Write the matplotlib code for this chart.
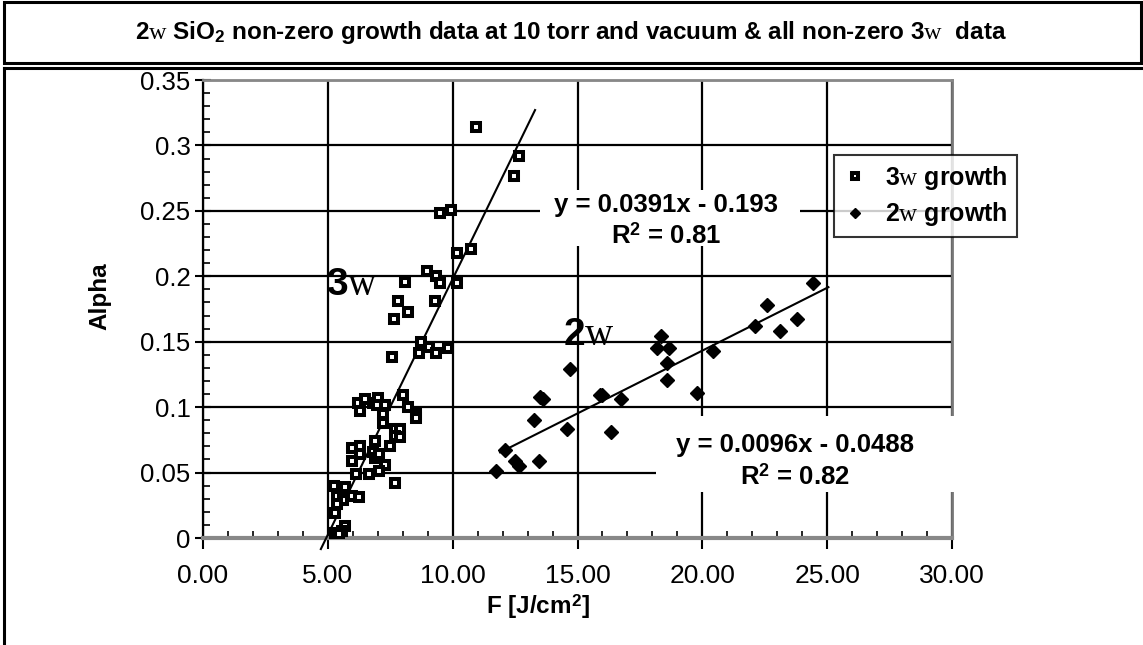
import matplotlib
matplotlib.use("Agg")
import matplotlib.pyplot as plt
from matplotlib.patches import Rectangle
from matplotlib.lines import Line2D
from matplotlib.ticker import MultipleLocator, FixedLocator, FixedFormatter

plt.rcParams['font.family'] = ['Liberation Sans', 'DejaVu Sans']
plt.rcParams['mathtext.fontset'] = 'custom'
plt.rcParams['mathtext.rm'] = 'Liberation Serif'
plt.rcParams['mathtext.bf'] = 'Liberation Sans:bold'
plt.rcParams['mathtext.it'] = 'Liberation Serif:italic'

# 3w growth data (F in J/cm^2, alpha)
f_3w = [10.95, 12.65, 12.44, 9.95, 9.51, 10.19, 10.75, 8.99, 9.35, 9.51, 10.19, 8.08,
        9.28, 7.81, 8.21, 7.64, 8.75, 9.04, 9.35, 9.81, 8.65, 7.59,
        8.01, 8.21, 8.55, 8.55, 6.21, 6.28, 6.48, 6.81, 7.01, 6.95, 7.28, 7.19, 7.19,
        7.68, 7.88, 7.68, 7.91, 7.48, 6.88, 5.97, 6.28, 6.28, 6.81, 6.88, 7.05, 7.28,
        5.97, 6.11, 6.65, 7.05, 7.68, 5.25, 5.68, 5.35, 5.68, 5.95, 6.25, 5.61, 5.35,
        5.28, 5.68, 5.55, 5.28, 5.45]
a_3w = [0.314, 0.292, 0.277, 0.251, 0.248, 0.218, 0.221, 0.204, 0.200, 0.195, 0.195, 0.196,
        0.181, 0.181, 0.173, 0.167, 0.150, 0.146, 0.141, 0.145, 0.141, 0.138,
        0.109, 0.100, 0.095, 0.092, 0.103, 0.097, 0.106, 0.103, 0.107, 0.102, 0.102, 0.095, 0.088,
        0.083, 0.083, 0.078, 0.077, 0.070, 0.074, 0.069, 0.070, 0.064, 0.066, 0.061, 0.064, 0.056,
        0.059, 0.049, 0.049, 0.051, 0.042, 0.040, 0.039, 0.032, 0.032, 0.032, 0.031, 0.029, 0.026,
        0.019, 0.009, 0.005, 0.004, 0.003]

# 2w growth data
f_2w = [11.72, 12.11, 12.48, 12.65, 13.45, 13.25, 13.48, 13.61, 14.59, 14.68, 15.92, 16.0,
        16.35, 16.75, 18.19, 18.35, 18.68, 18.59, 18.59, 19.79, 20.44, 22.12, 22.61, 23.12,
        23.81, 24.45]
a_2w = [0.051, 0.067, 0.059, 0.055, 0.059, 0.090, 0.108, 0.106, 0.083, 0.129, 0.109, 0.109,
        0.081, 0.106, 0.145, 0.154, 0.145, 0.134, 0.121, 0.111, 0.143, 0.162, 0.178, 0.158,
        0.167, 0.195]

# linear fits
fit_3w = (0.0391, -0.193)
fit_3w_range = (4.72, 13.3)
fit_2w = (0.0096, -0.0488)
fit_2w_range = (11.9, 25.05)

x_ticks = [0, 5, 10, 15, 20, 25, 30]
x_labels = ["0.00", "5.00", "10.00", "15.00", "20.00", "25.00", "30.00"]
y_ticks = [0, 0.05, 0.1, 0.15, 0.2, 0.25, 0.3, 0.35]
y_labels = ["0", "0.05", "0.1", "0.15", "0.2", "0.25", "0.3", "0.35"]

W, H = 1143, 645
fig = plt.figure(figsize=(W / 100, H / 100), dpi=100)


def px(x, y):
    return x / W, 1 - y / H


# frame boxes
fig.patches.append(Rectangle(px(4, 63), 1137 / W, 61 / H, transform=fig.transFigure,
                             fill=False, edgecolor='black', linewidth=2.2))
fig.lines.append(Line2D([4 / W, 1], [1 - 68 / H] * 2, transform=fig.transFigure,
                        color='black', linewidth=2.2))
fig.lines.append(Line2D([4 / W] * 2, [1 - 68 / H, 0], transform=fig.transFigure,
                        color='black', linewidth=2.2))

fig.text(*px(571, 32),
         r"2$\mathrm{w}$ SiO$_\mathbf{2}$ non-zero growth data at 10 torr and vacuum & all non-zero 3$\mathrm{w}$  data",
         ha='center', va='center', fontsize=17.5, fontweight='bold')

ax = fig.add_axes([203 / W, 1 - 538 / H, 749 / W, 458 / H])
ax.set_xlim(0, 30)
ax.set_ylim(0, 0.35)

ax.xaxis.set_major_locator(FixedLocator(x_ticks))
ax.xaxis.set_major_formatter(FixedFormatter(x_labels))
ax.yaxis.set_major_locator(FixedLocator(y_ticks))
ax.yaxis.set_major_formatter(FixedFormatter(y_labels))
ax.xaxis.set_minor_locator(MultipleLocator(1))
ax.yaxis.set_minor_locator(MultipleLocator(0.01))

ax.tick_params(axis='x', which='major', direction='out', length=8, width=1.5, labelsize=19, pad=11)
ax.tick_params(axis='x', which='minor', direction='in', length=5, width=1.2)
ax.tick_params(axis='y', which='major', direction='inout', length=12, width=1.5, labelsize=18.5, pad=3)
ax.tick_params(axis='y', which='minor', direction='in', length=5, width=1.2)

ax.set_axisbelow(True)
ax.grid(True, which='major', color='black', linewidth=1.6)

ax.spines['left'].set_color('black')
ax.spines['left'].set_linewidth(1.6)
ax.spines['bottom'].set_color('#888888')
ax.spines['bottom'].set_linewidth(3)
ax.spines['top'].set_color('#888888')
ax.spines['top'].set_linewidth(2)
ax.spines['right'].set_color('#777777')
ax.spines['right'].set_linewidth(2)

ax.plot(f_3w, a_3w, linestyle='none', marker='s', markersize=6, markerfacecolor='white',
        markeredgecolor='black', markeredgewidth=2.9, label=r"3$\mathrm{w}$ growth", zorder=4)
ax.plot(f_2w, a_2w, linestyle='none', marker='D', markersize=7, color='black',
        label=r"2$\mathrm{w}$ growth", zorder=4)

for (m, b), (x0, x1) in [(fit_3w, fit_3w_range), (fit_2w, fit_2w_range)]:
    ax.plot([x0, x1], [m * x0 + b, m * x1 + b], color='black', linewidth=1.5, zorder=3,
            clip_on=False)

# white label boxes over the grid
ax.add_patch(Rectangle((13.5, 0.2235), 10.4, 0.0425, facecolor='white', edgecolor='none',
                       zorder=3.5, clip_on=False))
ax.add_patch(Rectangle((18.15, 0.035), 12.0, 0.0585, facecolor='white', edgecolor='none',
                       zorder=3.5, clip_on=False))

ax.text(18.55, 0.2425, "y = 0.0391x - 0.193\nR$^\\mathbf{2}$ = 0.81", ha='center', va='center',
        fontsize=18.5, fontweight='bold', zorder=3.6, linespacing=1.3, clip_on=False)
ax.text(23.7, 0.0585, "y = 0.0096x - 0.0488\nR$^\\mathbf{2}$ = 0.82", ha='center', va='center',
        fontsize=18.5, fontweight='bold', zorder=3.6, linespacing=1.3, clip_on=False)

ax.text(4.92, 0.186, r"3$\mathrm{w}$", ha='left', va='baseline', fontsize=28, fontweight='bold',
        zorder=5)
ax.text(14.4, 0.1475, r"2$\mathrm{w}$", ha='left', va='baseline', fontsize=28, fontweight='bold',
        zorder=5)

fig.text(*px(538, 607), r"F [J/cm$^\mathbf{2}$]", ha='center', va='center', fontsize=17.5,
         fontweight='bold')
fig.text(*px(100, 296), "Alpha", ha='center', va='center', rotation=90, fontsize=17.5,
         fontweight='bold')

leg = ax.legend(loc='upper left', bbox_to_anchor=px(834, 155),
                bbox_transform=fig.transFigure, prop={'weight': 'bold', 'size': 18},
                frameon=True, fancybox=False, borderpad=0.35, borderaxespad=0,
                handletextpad=0.7, handlelength=1.0, markerscale=0.75, labelspacing=0.35)
leg.get_frame().set_edgecolor('black')
leg.get_frame().set_linewidth(1.5)
leg.set_zorder(6)

fig.savefig("out.png", dpi=100)
